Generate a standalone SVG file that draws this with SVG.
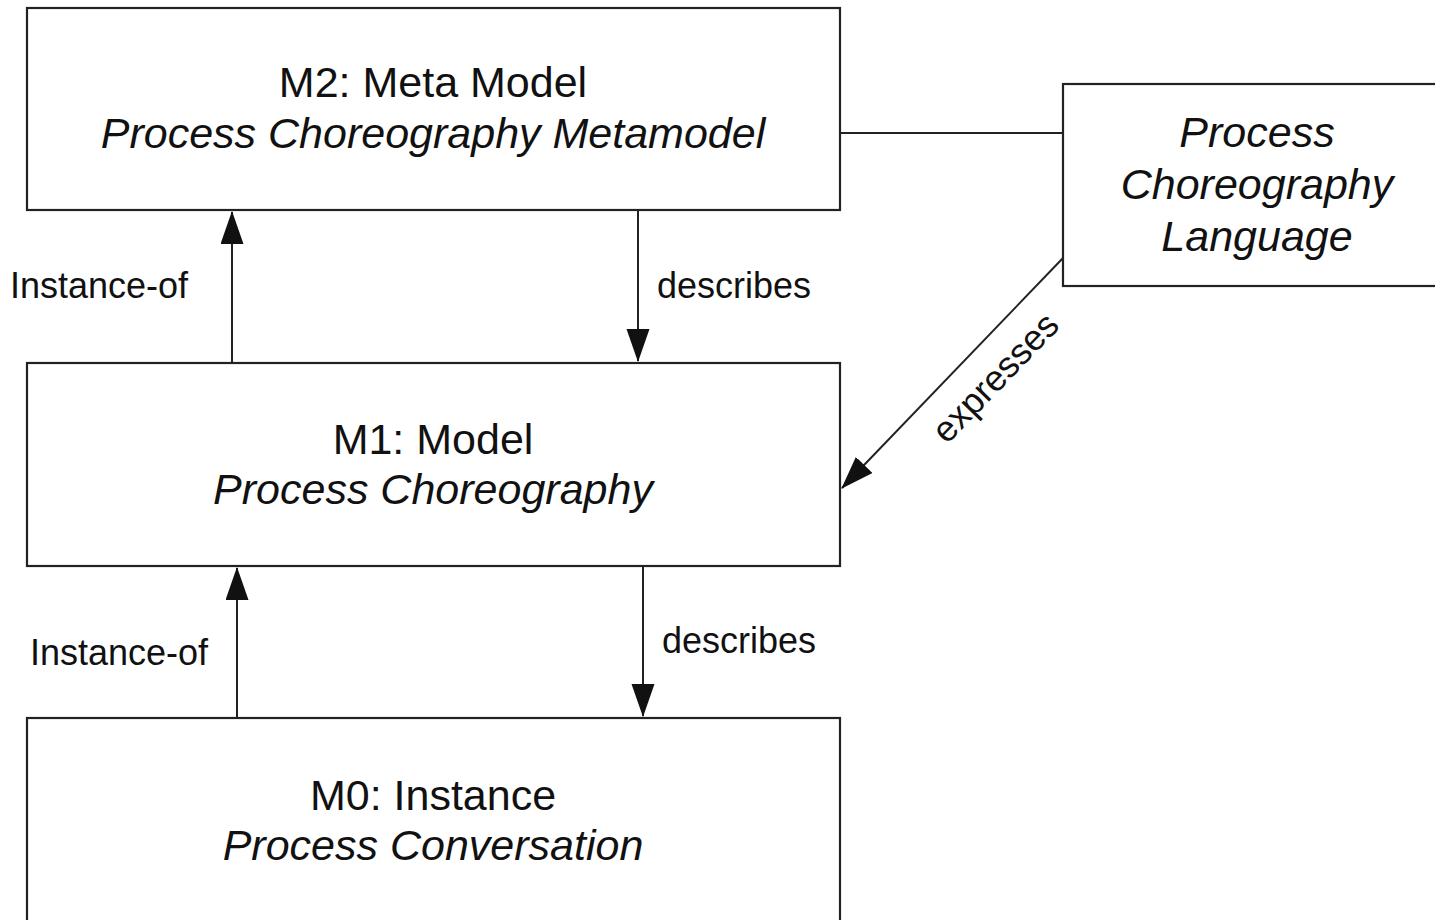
<svg xmlns="http://www.w3.org/2000/svg" width="1435" height="920" viewBox="0 0 1435 920">
<style>
.box{fill:#fff;stroke:#222;stroke-width:2.2}
.t{font-family:"Liberation Sans",Arial,sans-serif;font-size:43px;fill:#111;text-anchor:middle}
.i{font-style:italic}
.lbl{font-family:"Liberation Sans",Arial,sans-serif;font-size:36px;fill:#111}
.c{stroke:#222;stroke-width:2;fill:none}
</style>
<defs>
<marker id="ah" markerUnits="userSpaceOnUse" markerWidth="34" markerHeight="24" refX="32" refY="11.5" orient="auto">
<path d="M0,0 L33,11.5 L0,23 z" fill="#111"/>
</marker>
</defs>
<rect width="1435" height="920" fill="#fff"/>
<g id="connectors">
<line class="c" x1="840" y1="133" x2="1063" y2="133"/>
<line class="c" x1="232" y1="363" x2="232" y2="212" marker-end="url(#ah)"/>
<line class="c" x1="638" y1="210" x2="638" y2="361" marker-end="url(#ah)"/>
<line class="c" x1="237" y1="718" x2="237" y2="568" marker-end="url(#ah)"/>
<line class="c" x1="643" y1="566" x2="643" y2="716" marker-end="url(#ah)"/>
<line class="c" x1="1063" y1="258" x2="842" y2="488" marker-end="url(#ah)"/>
<text class="lbl" x="10" y="298">Instance-of</text>
<text class="lbl" x="657" y="298">describes</text>
<text class="lbl" x="30" y="665">Instance-of</text>
<text class="lbl" x="662" y="653">describes</text>
<text class="lbl" text-anchor="middle" transform="translate(1004,386) rotate(-46)">expresses</text>
</g>
<g id="m2">
<rect class="box" x="27" y="8" width="813" height="202"/>
<text class="t" x="433" y="97">M2: Meta Model</text>
<text class="t i" x="433" y="148">Process Choreography Metamodel</text>
</g>
<g id="m1">
<rect class="box" x="27" y="363" width="813" height="203"/>
<text class="t" x="433" y="454">M1: Model</text>
<text class="t i" x="433" y="504">Process Choreography</text>
</g>
<g id="m0">
<rect class="box" x="27" y="718" width="813" height="215"/>
<text class="t" x="433" y="810">M0: Instance</text>
<text class="t i" x="433" y="860">Process Conversation</text>
</g>
<g id="pcl">
<rect class="box" x="1063" y="84" width="390" height="202"/>
<text class="t i" x="1257" y="147">Process</text>
<text class="t i" x="1257" y="199">Choreography</text>
<text class="t i" x="1257" y="251">Language</text>
</g>
</svg>
